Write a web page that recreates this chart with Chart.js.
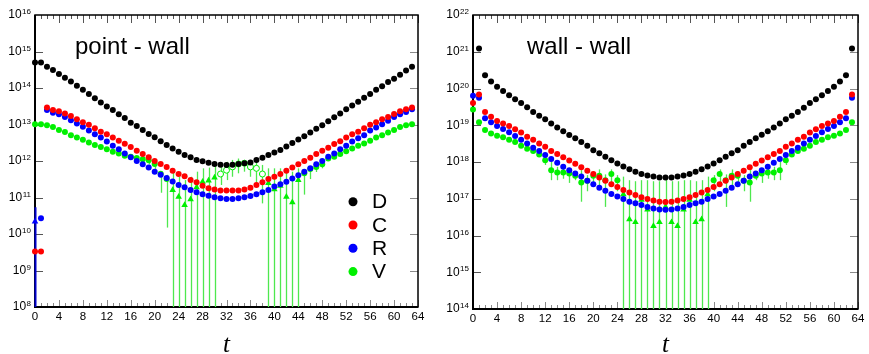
<!DOCTYPE html>
<html>
<head>
<meta charset="utf-8">
<script src="https://cdn.jsdelivr.net/npm/chart.js@4.4.1/dist/chart.umd.min.js"></script>
<style>
  html, body { margin: 0; padding: 0; background: #fff; }
  #wrap { position: relative; width: 869px; height: 354px; }
  canvas { position: absolute; top: 0; }
</style>
</head>
<body>
<div id="wrap">
  <canvas id="pw" width="434" height="354" style="left:0"></canvas>
  <canvas id="ww" width="435" height="354" style="left:434px"></canvas>
</div>
<script>
// time slices
const tVals = [
  0, 1, 2, 3, 4, 5, 6, 7, 8, 9, 10, 11, 12, 13, 14, 15,
  16, 17, 18, 19, 20, 21, 22, 23, 24, 25, 26, 27, 28, 29, 30, 31,
  32, 33, 34, 35, 36, 37, 38, 39, 40, 41, 42, 43, 44, 45, 46, 47,
  48, 49, 50, 51, 52, 53, 54, 55, 56, 57, 58, 59, 60, 61, 62, 63
]
const xTicks = [0, 4, 8, 12, 16, 20, 24, 28, 32, 36, 40, 44, 48, 52, 56, 60, 64]
const seriesNames = ["D", "C", "R", "V"]

// point - wall correlators (negative values are drawn as triangles)
const pwD = [
  5.0e14, 5.0e14, 3.8e14, 3.1e14, 2.4e14, 1.9e14, 1.5e14, 1.15e14,
  8.9e13, 6.9e13, 5.2e13, 4.0e13, 3.1e13, 2.5e13, 1.9e13, 1.5e13,
  1.12e13, 9.1e12, 7.1e12, 5.5e12, 4.5e12, 3.5e12, 2.75e12, 2.2e12,
  1.8e12, 1.45e12, 1.26e12, 1.07e12, 9.8e11, 8.9e11, 8.3e11, 7.9e11,
  7.8e11, 7.9e11, 8.3e11, 8.7e11, 9.1e11, 1.07e12, 1.23e12, 1.45e12,
  1.7e12, 2.0e12, 2.5e12, 3.1e12, 3.9e12, 4.8e12, 6.0e12, 7.6e12,
  9.5e12, 1.23e13, 1.58e13, 2.0e13, 2.6e13, 3.3e13, 4.2e13, 5.4e13,
  6.9e13, 8.9e13, 1.12e14, 1.45e14, 1.8e14, 2.3e14, 3.0e14, 3.8e14
]
const pwC = [
  3.3e9, 3.3e9, 2.9e13, 2.5e13, 2.3e13, 2.0e13, 1.7e13, 1.4e13,
  1.15e13, 9.8e12, 7.9e12, 6.3e12, 5.4e12, 4.4e12, 3.6e12, 2.95e12,
  2.4e12, 1.9e12, 1.55e12, 1.26e12, 1.0e12, 8.3e11, 6.8e11, 5.4e11,
  4.4e11, 3.8e11, 3.0e11, 2.6e11, 2.1e11, 1.8e11, 1.66e11, 1.55e11,
  1.55e11, 1.55e11, 1.55e11, 1.66e11, 1.86e11, 2.2e11, 2.6e11, 3.2e11,
  3.7e11, 4.4e11, 5.4e11, 6.6e11, 8.1e11, 1.0e12, 1.23e12, 1.55e12,
  1.9e12, 2.3e12, 2.9e12, 3.5e12, 4.4e12, 5.4e12, 6.3e12, 7.9e12,
  9.8e12, 1.15e13, 1.4e13, 1.6e13, 1.95e13, 2.3e13, 2.6e13, 2.9e13
]
const pwR = [
  -2.2e10, 2.7e10, 2.5e13, 2.1e13, 1.9e13, 1.6e13, 1.3e13, 1.07e13,
  8.7e12, 6.8e12, 5.4e12, 4.4e12, 3.4e12, 2.6e12, 2.1e12, 1.6e12,
  1.26e12, 1.0e12, 8.1e11, 6.6e11, 5.1e11, 4.2e11, 3.4e11, 2.75e11,
  2.2e11, 1.9e11, 1.6e11, 1.4e11, 1.23e11, 1.12e11, 1.02e11, 9.5e10,
  9.1e10, 9.1e10, 9.5e10, 1.02e11, 1.1e11, 1.23e11, 1.4e11, 1.6e11,
  2.0e11, 2.3e11, 2.7e11, 3.3e11, 4.1e11, 5.1e11, 6.3e11, 8.1e11,
  1.0e12, 1.3e12, 1.6e12, 2.1e12, 2.6e12, 3.4e12, 4.2e12, 5.1e12,
  6.8e12, 8.3e12, 1.02e13, 1.26e13, 1.6e13, 1.9e13, 2.2e13, 2.6e13
]
const pwV = [
  1.02e13, 1.02e13, 9.5e12, 8.5e12, 7.1e12, 6.2e12, 5.1e12, 4.4e12,
  3.8e12, 3.2e12, 2.75e12, 2.4e12, 2.1e12, 1.8e12, 1.6e12, 1.4e12,
  1.3e12, 1.2e12, 1.12e12, 1.05e12, 8.3e11, 4.5e11, 3.2e11, -1.6e11,
  -1.05e11, -6.2e10, -8.9e10, -1.9e11, -2.7e11, -2.9e11, -3.5e11, 4.4e11,
  5.6e11, 6.9e11, 8.3e11, 8.7e11, 6.9e11, 6.3e11, 4.4e11, -2.5e11,
  -1.66e11, -2.1e11, -1.05e11, -7.4e10, -3.0e11, 4.6e11, 6.0e11, 6.9e11,
  8.1e11, 1.17e12, 1.3e12, 1.55e12, 1.86e12, 2.2e12, 2.6e12, 3.0e12,
  3.6e12, 4.4e12, 5.1e12, 6.0e12, 7.1e12, 8.5e12, 9.5e12, 1.02e13
]
const pwVOpen = [31, 32, 33, 34, 35, 36, 37, 38]
// [t, low, high]
const pwVErr = [
  [19, 8.0e11, 1.2e12], [20, 6.0e11, 1.0e12], [21, 1.35e11, 5.1e11], [22, 1.5e10, 4.2e11],
  [23, 1e6, 5.1e11], [24, 1e6, 3.7e11], [25, 1e6, 3.0e11], [26, 1e6, 3.7e11],
  [27, 1e6, 5.1e11], [28, 1e6, 6.3e11], [29, 1e6, 6.6e11], [30, 1e6, 7.8e11],
  [31, 2.2e11, 8.7e11], [32, 3.0e11, 9.5e11], [33, 3.7e11, 1.07e12], [34, 4.6e11, 1.17e12],
  [35, 5.1e11, 1.07e12], [36, 3.7e11, 1.07e12], [37, 2.0e11, 9.5e11], [38, 6.9e10, 7.8e11],
  [39, 1e6, 6.3e11], [40, 1e6, 6.3e11], [41, 1e6, 6.3e11], [42, 1e6, 5.6e11],
  [43, 1e6, 5.1e11], [44, 1e6, 6.3e11], [45, 1.2e11, 5.6e11], [46, 3.2e11, 7.1e11],
  [47, 5.0e11, 8.5e11], [48, 6.3e11, 1.0e12]
]
const pwRErr = [[0, 1e6, 5.4e10]]

// wall - wall correlators
const wwD = [
  null, 1.23e21, 2.3e20, 1.55e20, 1.12e20, 8.5e19, 6.6e19, 5.1e19,
  4.0e19, 3.1e19, 2.3e19, 1.8e19, 1.45e19, 1.12e19, 8.7e18, 6.9e18,
  5.4e18, 4.4e18, 3.5e18, 2.75e18, 2.1e18, 1.74e18, 1.38e18, 1.12e18,
  9.1e17, 7.6e17, 6.3e17, 5.4e17, 4.7e17, 4.3e17, 4.0e17, 3.8e17,
  3.8e17, 3.8e17, 4.0e17, 4.3e17, 4.7e17, 5.4e17, 6.3e17, 7.6e17,
  9.1e17, 1.12e18, 1.38e18, 1.74e18, 2.1e18, 2.75e18, 3.5e18, 4.4e18,
  5.5e18, 6.9e18, 8.7e18, 1.12e19, 1.45e19, 1.8e19, 2.3e19, 3.0e19,
  4.0e19, 5.1e19, 6.6e19, 8.5e19, 1.12e20, 1.55e20, 2.3e20, 1.23e21
]
const wwC = [
  4.0e19, 6.9e19, 2.3e19, 1.7e19, 1.3e19, 1.12e19, 9.5e18, 7.8e18,
  6.3e18, 4.9e18, 4.0e18, 3.2e18, 2.6e18, 2.0e18, 1.66e18, 1.35e18,
  1.1e18, 8.9e17, 7.2e17, 5.8e17, 4.7e17, 3.8e17, 3.1e17, 2.5e17,
  2.1e17, 1.74e17, 1.48e17, 1.26e17, 1.1e17, 9.8e16, 8.9e16, 8.3e16,
  8.1e16, 8.3e16, 8.9e16, 9.8e16, 1.1e17, 1.26e17, 1.48e17, 1.74e17,
  2.1e17, 2.5e17, 3.1e17, 3.8e17, 4.7e17, 5.8e17, 7.2e17, 8.9e17,
  1.1e18, 1.35e18, 1.66e18, 2.0e18, 2.6e18, 3.2e18, 4.0e18, 4.9e18,
  6.3e18, 7.8e18, 9.5e18, 1.12e19, 1.3e19, 1.7e19, 2.3e19, 6.9e19
]
const wwR = [
  6.3e19, 5.6e19, 1.55e19, 1.2e19, 9.5e18, 7.9e18, 6.5e18, 5.1e18,
  4.0e18, 3.2e18, 2.45e18, 2.0e18, 1.55e18, 1.2e18, 9.5e17, 7.4e17,
  6.0e17, 4.9e17, 4.0e17, 3.1e17, 2.5e17, 2.0e17, 1.66e17, 1.35e17,
  1.15e17, 9.8e16, 8.3e16, 7.6e16, 6.8e16, 6.0e16, 5.4e16, 5.1e16,
  5.0e16, 5.1e16, 5.4e16, 6.0e16, 6.8e16, 7.6e16, 8.3e16, 9.8e16,
  1.15e17, 1.35e17, 1.66e17, 2.0e17, 2.5e17, 3.1e17, 4.0e17, 4.9e17,
  6.0e17, 7.4e17, 9.5e17, 1.2e18, 1.55e18, 2.0e18, 2.45e18, 3.2e18,
  4.0e18, 5.1e18, 6.5e18, 7.9e18, 9.5e18, 1.2e19, 1.55e19, 5.6e19
]
const wwV = [
  2.7e19, 1.2e19, 7.4e18, 6.0e18, 5.2e18, 4.7e18, 4.0e18, 3.5e18,
  2.75e18, 2.3e18, 2.0e18, 1.6e18, 1.12e18, 6.0e17, 5.2e17, 5.2e17,
  4.9e17, 4.2e17, 2.75e17, 3.1e17, 4.2e17, 4.2e17, 3.2e17, 4.7e17,
  3.2e17, -1.32e17, -2.75e16, -2.3e16, -9.3e16, -5.1e16, -1.8e16, -2.3e16,
  -6.0e16, -2.3e16, -1.8e16, -5.1e16, -9.3e16, -2.3e16, -2.75e16, -1.32e17,
  3.2e17, 4.7e17, 3.2e17, 4.2e17, 4.2e17, 3.1e17, 2.75e17, 4.2e17,
  4.9e17, 5.2e17, 5.2e17, 6.0e17, 1.12e18, 1.6e18, 2.0e18, 2.3e18,
  2.75e18, 3.5e18, 4.0e18, 4.7e18, 5.2e18, 6.0e18, 7.4e18, 1.2e19
]
const wwVErr = [
  [12, 8.3e17, 1.6e18], [13, 3.2e17, 1.0e18], [14, 3.2e17, 7.4e17], [15, 3.5e17, 7.4e17],
  [16, 2.7e17, 6.8e17], [17, 3.2e17, 5.4e17], [18, 8.3e16, 6.0e17], [19, 1.6e17, 4.4e17],
  [20, 2.2e17, 5.6e17], [21, 2.2e17, 6.3e17], [22, 6.0e16, 4.6e17], [23, 2.7e17, 6.3e17],
  [24, 1.6e17, 4.4e17], [25, 1e12, 4.0e17], [26, 1e12, 3.2e17], [27, 1e12, 3.0e17],
  [28, 1e12, 3.2e17], [29, 1e12, 3.2e17], [30, 1e12, 3.0e17], [31, 1e12, 3.0e17],
  [32, 1e12, 3.5e17], [33, 1e12, 3.0e17], [34, 1e12, 3.0e17], [35, 1e12, 3.2e17],
  [36, 1e12, 3.2e17], [37, 1e12, 3.0e17], [38, 1e12, 3.2e17], [39, 1e12, 4.0e17],
  [40, 1.6e17, 4.4e17], [41, 2.7e17, 6.3e17], [42, 6.0e16, 4.6e17], [43, 2.2e17, 6.3e17],
  [44, 2.2e17, 5.6e17], [45, 1.6e17, 4.4e17], [46, 8.3e16, 6.0e17], [47, 3.2e17, 5.4e17],
  [48, 2.7e17, 6.8e17], [49, 3.5e17, 7.4e17], [50, 3.2e17, 7.4e17], [51, 3.2e17, 1.0e18],
  [52, 8.3e17, 1.6e18]
]

const colors = { D: "#000000", C: "#ff0000", R: "#0000ff", V: "#00f000" }
const SANS = '"Liberation Sans", Arial, Helvetica, sans-serif'

function makeSet(name, vals, openList, errList) {
  const pts = []
  vals.forEach((v, i) => {
    if (v === null) return
    pts.push({ x: tVals[i], y: Math.abs(v), neg: v < 0, open: openList.includes(tVals[i]) })
  })
  const c = colors[name]
  return {
    label: name,
    data: pts,
    errs: errList,
    showLine: false,
    clip: false,
    pointStyle: (ctx) => (ctx.raw && ctx.raw.neg ? "triangle" : "circle"),
    pointRadius: (ctx) => (ctx.raw && ctx.raw.neg ? 3.8 : 3),
    pointBackgroundColor: (ctx) => (ctx.raw && ctx.raw.open ? "#ffffff" : c),
    pointBorderColor: c,
    pointBorderWidth: (ctx) => (ctx.raw && ctx.raw.open ? 1 : 0),
    pointHoverRadius: 0,
  }
}

// frame, inward ticks, tick labels, error bars
const framePlugin = {
  id: "frame",
  beforeDatasetsDraw(chart, args, opts) {
    const { ctx, chartArea: a } = chart
    const x = chart.scales.x
    const y = chart.scales.y
    ctx.save()
    ctx.lineWidth = 1
    for (let t = 0; t <= 64; t++) {
      const px = Math.round(x.getPixelForValue(t)) + 0.5
      const major = t % 4 === 0
      ctx.strokeStyle = "#8a8a8a"
      ctx.beginPath()
      ctx.moveTo(px, a.bottom)
      ctx.lineTo(px, a.bottom - (major ? 7 : 4))
      ctx.stroke()
      ctx.strokeStyle = "#555"
      ctx.beginPath()
      ctx.moveTo(px, a.top)
      ctx.lineTo(px, a.top + (major ? 8 : 4))
      ctx.stroke()
    }
    for (let e = opts.eMin + 1; e < opts.eMax; e++) {
      const py = Math.round(y.getPixelForValue(Math.pow(10, e))) + 0.5
      ctx.strokeStyle = "#555"
      ctx.beginPath()
      ctx.moveTo(a.left, py)
      ctx.lineTo(a.left + 8, py)
      ctx.stroke()
      ctx.strokeStyle = "#8a8a8a"
      ctx.beginPath()
      ctx.moveTo(a.right, py)
      ctx.lineTo(a.right - 8, py)
      ctx.stroke()
    }
    // box
    ctx.strokeStyle = "#000"
    ctx.lineWidth = 1.5
    ctx.strokeRect(a.left, a.top, a.right - a.left, a.bottom - a.top)
    ctx.lineWidth = 2
    ctx.beginPath()
    ctx.moveTo(a.left, a.top)
    ctx.lineTo(a.left, a.bottom)
    ctx.lineTo(a.right, a.bottom)
    ctx.stroke()

    // error bars
    chart.data.datasets.forEach((ds) => {
      if (!ds.errs) return
      ctx.strokeStyle = ds.label === "R" ? "#0000cc" : "#4ee84e"
      ctx.lineWidth = ds.label === "R" ? 2 : 1.3
      ds.errs.forEach(([t, lo, hi]) => {
        const px = Math.round(x.getPixelForValue(t)) + 0.5
        const y1 = Math.max(a.top, y.getPixelForValue(hi))
        const y2 = Math.min(a.bottom, y.getPixelForValue(lo))
        ctx.beginPath()
        ctx.moveTo(px, y1)
        ctx.lineTo(px, y2)
        ctx.stroke()
      })
    })

    // tick labels
    ctx.fillStyle = "#000"
    ctx.font = "11.5px " + SANS
    ctx.textAlign = "center"
    ctx.textBaseline = "middle"
    xTicks.forEach((t) => {
      ctx.fillText(String(t), x.getPixelForValue(t), a.bottom + 10)
    })
    for (let e = opts.eMin; e <= opts.eMax; e++) {
      const py = y.getPixelForValue(Math.pow(10, e))
      const xr = a.left - 4
      ctx.textAlign = "left"
      ctx.font = "8px " + SANS
      const ew = ctx.measureText(String(e)).width
      ctx.textBaseline = "alphabetic"
      ctx.fillText(String(e), xr - ew, py - 1)
      ctx.font = "12px " + SANS
      const bw = ctx.measureText("10").width
      ctx.textBaseline = "middle"
      ctx.fillText("10", xr - ew - 0.5 - bw, py)
    }
    ctx.restore()
  },
  afterDraw(chart, args, opts) {
    const { ctx, chartArea: a } = chart
    ctx.save()
    ctx.fillStyle = "#000"
    ctx.font = "24px " + SANS
    ctx.textAlign = "left"
    ctx.textBaseline = "alphabetic"
    ctx.fillText(opts.title, opts.titleX, 54)
    ctx.font = 'italic 25px "Liberation Serif", "DejaVu Serif", serif'
    ctx.textAlign = "center"
    ctx.fillText("t", (a.left + a.right) / 2, 352)
    if (opts.legend) {
      ctx.font = "21px " + SANS
      ctx.textAlign = "left"
      ctx.textBaseline = "middle"
      seriesNames.forEach((n, i) => {
        const ly = 201.7 + i * 23.3
        ctx.fillStyle = colors[n]
        ctx.beginPath()
        ctx.arc(353, ly, 4.5, 0, Math.PI * 2)
        ctx.fill()
        ctx.fillStyle = "#000"
        ctx.fillText(n, 372, ly + 1)
      })
    }
    ctx.restore()
  },
}

function makeChart(id, sets, cfg) {
  return new Chart(document.getElementById(id), {
    type: "scatter",
    data: { datasets: sets },
    plugins: [framePlugin],
    options: {
      responsive: false,
      animation: false,
      events: [],
      layout: { padding: { left: 0, top: 15, right: cfg.padRight, bottom: 0 } },
      scales: {
        x: {
          type: "linear", min: 0, max: 64,
          ticks: { display: false }, grid: { display: false }, border: { display: false },
          afterFit: (s) => { s.height = cfg.xHeight },
        },
        y: {
          type: "logarithmic", min: Math.pow(10, cfg.eMin), max: Math.pow(10, cfg.eMax),
          ticks: { display: false }, grid: { display: false }, border: { display: false },
          afterFit: (s) => { s.width = cfg.yWidth },
        },
      },
      plugins: {
        legend: { display: false },
        tooltip: { enabled: false },
        frame: { eMin: cfg.eMin, eMax: cfg.eMax, title: cfg.title, titleX: cfg.titleX, legend: cfg.legend },
      },
    },
  })
}

makeChart("pw", [
  makeSet("D", pwD, [], null),
  makeSet("C", pwC, [], null),
  makeSet("R", pwR, [], pwRErr),
  makeSet("V", pwV, pwVOpen, pwVErr),
], { padRight: 16, xHeight: 47, yWidth: 35, eMin: 8, eMax: 16, title: "point - wall", titleX: 75, legend: true })

makeChart("ww", [
  makeSet("D", wwD, [], null),
  makeSet("C", wwC, [], null),
  makeSet("R", wwR, [], null),
  makeSet("V", wwV, [], wwVErr),
], { padRight: 11, xHeight: 45, yWidth: 39, eMin: 14, eMax: 22, title: "wall - wall", titleX: 93, legend: false })
</script>
</body>
</html>
